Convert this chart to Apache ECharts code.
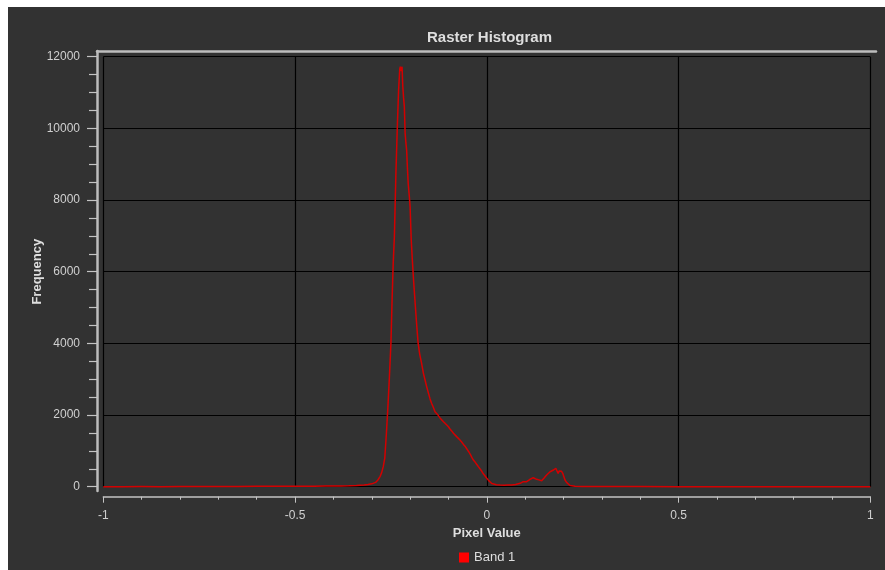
<!DOCTYPE html>
<html>
<head>
<meta charset="utf-8">
<script src="https://cdn.jsdelivr.net/npm/echarts@6/dist/echarts.min.js"></script>
<style>
  html, body { margin: 0; padding: 0; background: #ffffff; }
  #wrap { position: relative; width: 885px; height: 570px; overflow: hidden; }
  #c { position: absolute; left: 0; top: 0; width: 885px; height: 570px; }
  .strip { position: absolute; background: #ffffff; z-index: 5; }
</style>
</head>
<body>
<div id="wrap">
  <div id="c"></div>
  <div class="strip" style="left:0;top:0;width:885px;height:7px;"></div>
  <div class="strip" style="left:0;top:0;width:8px;height:570px;"></div>
</div>
<script>
// ---- data ----
const pixelValues = [
  -1.00, -0.95, -0.90, -0.85, -0.80, -0.75, -0.70, -0.65, -0.60, -0.55,
  -0.50, -0.45, -0.42, -0.40, -0.38, -0.36, -0.34, -0.32, -0.31, -0.30,
  -0.29, -0.284, -0.278, -0.274, -0.270, -0.266, -0.262, -0.258, -0.254, -0.250,
  -0.247, -0.244, -0.241, -0.237, -0.233, -0.230, -0.227, -0.2255, -0.223, -0.221,
  -0.219, -0.217, -0.215, -0.213, -0.211, -0.209, -0.207, -0.205, -0.202, -0.200,
  -0.197, -0.194, -0.191, -0.188, -0.185, -0.182, -0.179, -0.175, -0.170, -0.165,
  -0.161, -0.157, -0.152, -0.148, -0.144, -0.140, -0.137, -0.135, -0.133, -0.131,
  -0.128, -0.126, -0.122, -0.118, -0.113, -0.109, -0.105, -0.100, -0.096, -0.091,
  -0.087, -0.083, -0.078, -0.074, -0.070, -0.065, -0.061, -0.056, -0.052, -0.048,
  -0.043, -0.039, -0.035, -0.030, -0.026, -0.022, -0.018, -0.013, -0.009, -0.004,
  0.000, 0.005, 0.009, 0.013, 0.017, 0.025, 0.035, 0.045, 0.055, 0.065,
  0.075, 0.087, 0.095, 0.104, 0.112, 0.121, 0.126, 0.130, 0.136, 0.143,
  0.150, 0.156, 0.160, 0.165, 0.170, 0.174, 0.180, 0.183, 0.186, 0.189,
  0.191, 0.195, 0.198, 0.201, 0.204, 0.208, 0.213, 0.217, 0.221, 0.23,
  0.25, 0.30, 0.35, 0.40, 0.50, 0.60, 0.70, 0.80, 0.90, 1.00
];
const band1Counts = [
  0, 2, 3, 2, 4, 5, 6, 8, 10, 12,
  14, 16, 18, 20, 22, 28, 35, 48, 62, 80,
  120, 187, 290, 400, 560, 800, 1450, 2200, 3050, 4000,
  5200, 6240, 6975, 8750, 10150, 11070, 11650, 11720, 11600, 11720,
  11160, 10850, 10600, 9870, 9600, 9390, 8900, 8470, 8100, 7810,
  6880, 6300, 5770, 5300, 4840, 4400, 4000, 3700, 3440, 3150,
  2977, 2800, 2605, 2450, 2327, 2230, 2180, 2090, 2140, 2048,
  2010, 1960, 1920, 1870, 1814, 1770, 1730, 1674, 1610, 1550,
  1490, 1440, 1390, 1350, 1303, 1240, 1180, 1120, 1071, 990,
  900, 820, 745, 680, 620, 560, 513, 430, 360, 290,
  234, 170, 120, 90, 67, 52, 45, 42, 44, 46,
  60, 95, 140, 140, 200, 251, 262, 206, 190, 167,
  250, 326, 380, 418, 460, 466, 513, 440, 374, 440,
  485, 430, 374, 280, 187, 120, 67, 35, 20, 12,
  8, 5, 4, 3, 2, 2, 1, 1, 0, 0
];
const xTicks = [-1, -0.5, 0, 0.5, 1];
const yTicks = [0, 2000, 4000, 6000, 8000, 10000, 12000];
const seriesName = 'Band 1';

const chart = echarts.init(document.getElementById('c'), null, { renderer: 'canvas' });
const FONT = '"Liberation Sans", Arial, sans-serif';
const LABEL = '#d0d0d0';
const AXISC = '#c4c4c4';

const pairs = pixelValues.map((v, i) => [v, band1Counts[i]]);

chart.setOption({
  backgroundColor: '#323232',
  animation: false,
  textStyle: { fontFamily: FONT },
  title: {
    text: 'Raster Histogram',
    left: 422, top: 25,
    textStyle: { color: '#dedede', fontSize: 15, fontWeight: 'bold', fontFamily: FONT }
  },
  legend: {
    data: [seriesName],
    left: 454, top: 546,
    icon: 'rect', itemWidth: 10, itemHeight: 10, itemGap: 6,
    textStyle: { color: '#dedede', fontSize: 13, fontFamily: FONT }
  },
  grid: [
    { left: 103.3, right: 14.7, top: 56.7, bottom: 83.3 },
    { left: 97, right: 9, top: 51, bottom: 79 }
  ],
  xAxis: [
    {
      type: 'value', gridIndex: 0, position: 'bottom',
      min: xTicks[0], max: xTicks[xTicks.length - 1], interval: 0.5,
      offset: 10,
      axisLine: { show: true, onZero: false, lineStyle: { color: AXISC, width: 1.5 } },
      axisTick: { show: true, inside: false, length: 6, lineStyle: { color: AXISC, width: 1 } },
      minorTick: { show: true, splitNumber: 5, length: 3, lineStyle: { color: AXISC, width: 1 } },
      axisLabel: { color: LABEL, fontSize: 12, margin: 13, fontFamily: FONT,
        formatter: v => String(v) },
      splitLine: { show: true, lineStyle: { color: '#000000', width: 1.2 } },
      name: 'Pixel Value', nameLocation: 'middle', nameGap: 27,
      nameTextStyle: { color: '#dedede', fontSize: 13, fontWeight: 'bold', fontFamily: FONT }
    },
    {
      type: 'value', gridIndex: 1, position: 'top', min: 0, max: 1,
      axisLine: { show: true, onZero: false, lineStyle: { color: '#bdbdbd', width: 2.5 } },
      axisTick: { show: false }, axisLabel: { show: false }, splitLine: { show: false }
    }
  ],
  yAxis: [
    {
      type: 'value', gridIndex: 0, position: 'left',
      min: yTicks[0], max: yTicks[yTicks.length - 1], interval: 2000,
      offset: 6.3,
      axisLine: { show: false, onZero: false },
      axisTick: { show: true, inside: false, length: 10, lineStyle: { color: AXISC, width: 1.2 } },
      minorTick: { show: true, splitNumber: 4, length: 8, lineStyle: { color: AXISC, width: 1.2 } },
      axisLabel: { color: LABEL, fontSize: 12, margin: 17, fontFamily: FONT,
        formatter: v => String(v) },
      splitLine: { show: true, lineStyle: { color: '#000000', width: 1.2 } },
      name: 'Frequency', nameLocation: 'middle', nameRotate: 90, nameGap: 53,
      nameMoveOverlap: false,
      nameTextStyle: { color: '#dedede', fontSize: 13, fontWeight: 'bold', fontFamily: FONT }
    },
    {
      type: 'value', gridIndex: 1, position: 'left', min: 0, max: 1,
      axisLine: { show: true, onZero: false, lineStyle: { color: '#bdbdbd', width: 2.5 } },
      axisTick: { show: false }, axisLabel: { show: false }, splitLine: { show: false }
    }
  ],
  series: [
    {
      name: seriesName, type: 'line', xAxisIndex: 0, yAxisIndex: 0,
      data: pairs, showSymbol: false, symbol: 'none',
      itemStyle: { color: '#ff0000' },
      lineStyle: { color: '#d40000', width: 1.5 },
      clip: false
    }
  ]
});
</script>
</body>
</html>
